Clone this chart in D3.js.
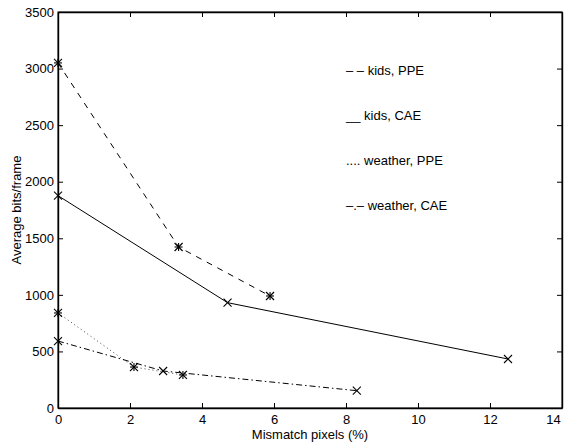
<!DOCTYPE html>
<html>
<head>
<meta charset="utf-8">
<script src="https://cdn.jsdelivr.net/npm/d3@7"></script>
<style>
  body { margin: 0; background: #fff; }
  text { font-family: "Liberation Sans", Arial, sans-serif; fill: #000; }
</style>
</head>
<body>
<script>
// data
var kidsPPE = [[0, 3050], [3.35, 1423], [5.89, 990]];
var kidsCAE = [[0, 1877], [4.71, 931], [12.5, 433]];
var weatherPPE = [[0, 840], [2.11, 362], [3.47, 292]];
var weatherCAE = [[0, 592], [2.92, 327], [8.3, 153]];
var xTicks = [0, 2, 4, 6, 8, 10, 12, 14];
var yTicks = [0, 500, 1000, 1500, 2000, 2500, 3000, 3500];
var legendLabels = ["\u2013 \u2013 kids, PPE", "__ kids, CAE", ".... weather, PPE", "\u2013.\u2013 weather, CAE"];

//setup
var margin = { top: 12, bottom: 34, right: 6, left: 58 };
var W = 568, H = 442;
var width = W - margin.left - margin.right;
var height = H - margin.top - margin.bottom;

var svg = d3.select("body")
    .append("svg")
    .attr("width", W)
    .attr("height", H)
    .append("g")
    .attr("transform", "translate(" + margin.left + "," + margin.top + ")");

var x = d3.scaleLinear().domain([0, 14]).range([0, width]);
var y = d3.scaleLinear().domain([0, 3500]).range([height, 0]);

// box with inward ticks on all four sides
svg.append("rect")
    .attr("width", width).attr("height", height)
    .attr("fill", "none").attr("stroke", "#000").attr("stroke-width", 1);

var bottom = svg.append("g")
    .attr("transform", "translate(0," + height + ")")
    .call(d3.axisBottom(x).tickValues(xTicks).tickFormat(d3.format("d"))
        .tickSizeInner(-5).tickSizeOuter(0).tickPadding(7));
var left = svg.append("g")
    .call(d3.axisLeft(y).tickValues(yTicks).tickFormat(d3.format("d"))
        .tickSizeInner(-5).tickSizeOuter(0).tickPadding(4));
svg.append("g")
    .call(d3.axisTop(x).tickValues(xTicks).tickSizeInner(-5).tickSizeOuter(0).tickFormat(""));
svg.append("g")
    .attr("transform", "translate(" + width + ",0)")
    .call(d3.axisRight(y).tickValues(yTicks).tickSizeInner(-5).tickSizeOuter(0).tickFormat(""));

svg.selectAll(".domain").attr("stroke", "#000").attr("stroke-width", 1.4);
svg.selectAll(".tick line").attr("stroke", "#000");
svg.selectAll(".tick text").style("font-size", "13px").attr("font-family", null);
bottom.selectAll(".tick text").filter(function (d) { return d === 14; }).attr("dx", -9);

// axis labels
svg.append("text")
    .attr("x", width / 2).attr("y", height + 31)
    .attr("text-anchor", "middle").style("font-size", "13px")
    .text("Mismatch pixels (%)");
svg.append("text")
    .attr("transform", "translate(" + (-37) + "," + (height / 2) + ") rotate(-90)")
    .attr("text-anchor", "middle").style("font-size", "13px")
    .text("Average bits/frame");

// lines
var line = d3.line()
    .x(function (d) { return x(d[0]); })
    .y(function (d) { return y(d[1]); });

var series = [
    { data: kidsPPE, dash: "6,6", color: "#000", marker: "star" },
    { data: kidsCAE, dash: null, color: "#000", marker: "x" },
    { data: weatherPPE, dash: "1,3", color: "#444", marker: "star" },
    { data: weatherCAE, dash: "6,3,1.5,3", color: "#000", marker: "x" }
];

series.forEach(function (s) {
    svg.append("path")
        .datum(s.data)
        .attr("fill", "none")
        .attr("stroke", s.color)
        .attr("stroke-width", 1)
        .attr("stroke-dasharray", s.dash)
        .attr("d", line);
});

// markers
var r = 4;
series.forEach(function (s) {
    var g = svg.append("g").selectAll("g").data(s.data).enter().append("g")
        .attr("transform", function (d) { return "translate(" + x(d[0]) + "," + y(d[1]) + ")"; })
        .attr("stroke", "#000").attr("stroke-width", 1.1);
    g.append("line").attr("x1", -r).attr("y1", -r).attr("x2", r).attr("y2", r);
    g.append("line").attr("x1", -r).attr("y1", r).attr("x2", r).attr("y2", -r);
    if (s.marker === "star") {
        g.append("line").attr("x1", 0).attr("y1", -r).attr("x2", 0).attr("y2", r);
        g.append("line").attr("x1", -r).attr("y1", 0).attr("x2", r).attr("y2", 0);
    }
});

// legend (text only, as in the original)
svg.append("g").selectAll("text").data(legendLabels).enter().append("text")
    .attr("x", 288)
    .attr("y", function (d, i) { return 63 + i * 45; })
    .style("font-size", "13px")
    .text(function (d) { return d; });
</script>
</body>
</html>
